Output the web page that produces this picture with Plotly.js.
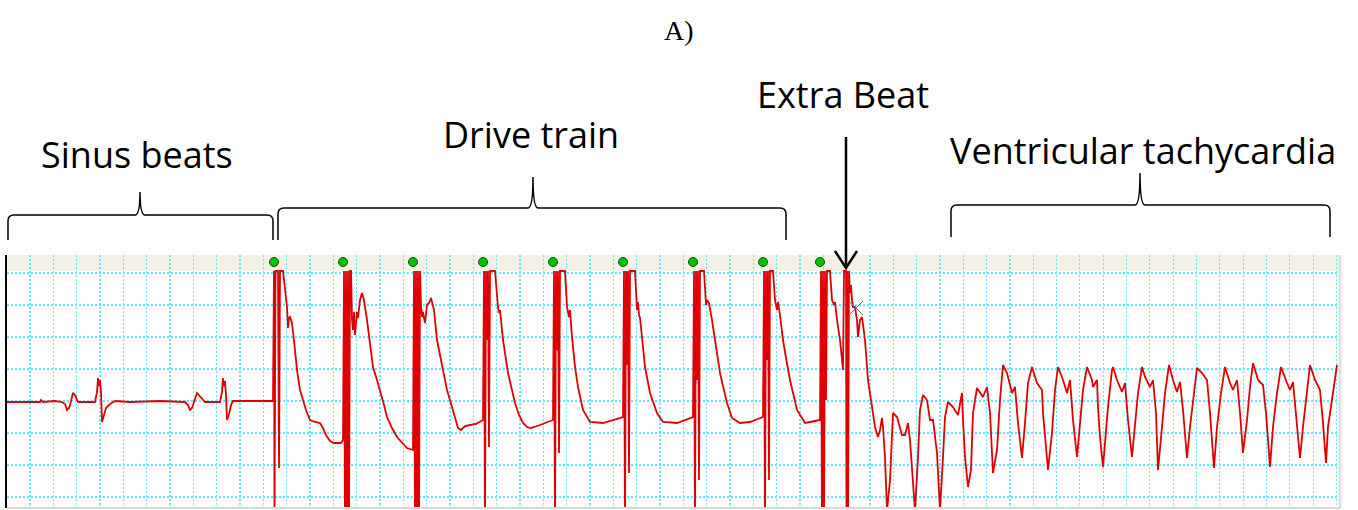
<!DOCTYPE html>
<html>
<head>
<meta charset="utf-8">
<script src="https://cdn.plot.ly/plotly-3.0.1.min.js"></script>
<style>html,body{margin:0;padding:0;background:#fff;}#chart{width:1358px;height:510px;}</style>
</head>
<body>
<div id="chart"></div>
<script>
// ---- data (time in samples, amplitude in arbitrary units) ----
const sinusT = [0,33,34,36,48,55,58,60,62,63,66,68,71,88,90,91,92,93,94,95,97,99,103,108,123,153,178,181,183,185,190,193,198,213,215,216,217,218,219,220,222,224,226,243,266];
const sinusV = [-1,-1,1,-1,0,-1,-3,-9,-7,-4,8,6,-1,-1,9,23,15,21,9,-21,-14,-7,-3,0,-1,0,-1,-4,-9,-7,8,5,-1,-1,9,23,15,20,6,-19,-13,-4,0,0,0];

const drive1T = [267,267.5,268.5,271,272,273,276,278,280,281,282,283,285,288,290,293,296,299,303,308,313,316,319,323,327,334,336];
const drive1V = [130,-130,130,130,-67,130,130,111,94,73,83,84,78,51,31,11,1,-9,-19,-21,-22,-27,-34,-40,-42,-42,-39];
const drive2T = [337,338,339,340,341,342,343,344,345,346,347,348,349,350,351,353,355,357,360,363,366,370,373,377,380,385,390,395,400,406];
const drive2V = [130,-130,130,-130,130,-130,130,130,81,71,89,66,81,89,83,101,108,101,81,56,34,21,11,-4,-16,-27,-36,-42,-47,-49];
const drive3T = [407,408,409,410,411,412,413,414,415,416,418,420,422,424,427,430,433,436,440,443,447,451,454,458,463,469,476];
const drive3V = [130,-130,130,-130,130,-130,130,96,84,89,78,96,98,103,91,61,46,28,11,1,-12,-27,-29,-25,-24,-23,-19];
const drive4T = [477,478,479,480,481,482,483,488,490,491,492,493,496,499,501,505,508,512,516,520,524,533,541,546];
const drive4V = [130,-130,130,61,130,-46,130,130,101,94,88,91,61,41,28,11,-2,-14,-22,-26,-27,-24,-21,-19];
const drive5T = [547,548,549,550,551,552,553,558,560,562,563,565,568,571,576,583,596,606,616];
const drive5V = [130,-130,130,51,130,-52,130,130,94,84,91,64,34,14,-9,-21,-22,-19,-16];
const drive6T = [617,618,619,620,621,622,623,628,630,631,632,633,635,638,643,650,656,670,686];
const drive6V = [130,-130,130,36,130,-72,130,130,91,99,86,83,64,34,8,-12,-21,-22,-16];
const drive7T = [687,688,689,690,691,692,693,697,699,700,702,705,708,713,720,725,733,743,756];
const drive7V = [130,-130,130,21,130,-79,130,130,96,101,98,81,61,28,-2,-17,-22,-21,-16];
const drive8T = [757,758,759,760,761,762,763,766,768,770,771,773,776,779,783,790,798,803,813];
const drive8V = [130,-130,130,41,130,-79,130,130,101,91,99,86,61,43,21,-9,-22,-21,-19];
const drive9T = [814,815,816,817,818,819,820,823,825,827,828,830,833,835,836];
const drive9V = [130,-130,130,-130,130,1,130,130,101,96,99,81,61,41,31];

const extraT = [837,839,839.5,840,841,842,843,844,845,846,848,850,851,853,855,858,861,865,868,871,873,875,876,878,880,883,885,886];
const extraV = [130,130,-130,130,-130,130,108,116,101,94,94,81,64,81,84,61,21,-9,-26,-36,-29,-17,-26,-56,-110,-79,-26,-12];

const vtT = [890,895,898,901,903,905,908,911,913,916,
920,923,926,930,933,936,938,941,946,951,
955,956,958,961,964,966,970,976,980,983,
986,990,993,996,1000,1005,1008,1011,1015,1018,
1021,1025,1030,1035,1036,1041,1045,1048,1051,1056,
1060,1063,1066,1070,1073,1076,1080,1085,1086,1090,
1091,1093,1096,1098,1101,1105,1106,1110,1115,1118,
1121,1125,1128,1131,1135,1138,1143,1146,1149,1151,
1155,1158,1162,1166,1170,1173,1176,1180,1183,1186,
1190,1195,1200,1203,1207,1210,1214,1218,1223,1226,
1230,1233,1236,1240,1243,1246,1251,1256,1259,1263,
1266,1270,1274,1280,1283,1286,1290,1293,1296,1300,
1303,1308,1313,1316,1319,1321,1325,1328,1330];
const vtV = [-16,-34,-34,-22,-39,-72,-110,-56,-9,6,
1,-19,-19,-52,-110,-56,-16,-1,-6,-14,
8,-19,-56,-86,-69,-12,13,4,14,-12,
-72,-49,1,36,28,8,14,-22,-57,-22,
18,34,18,11,-12,-69,-32,11,34,21,
8,21,-19,-56,-26,11,34,21,14,21,
-6,-36,-66,-39,-6,31,34,21,9,18,
-19,-56,-26,8,34,24,14,21,-12,-69,
-26,8,36,21,9,19,-9,-57,-26,1,
33,28,21,-12,-67,-26,8,34,18,11,
21,-12,-52,-19,14,38,21,16,-12,-66,
-26,8,34,18,11,19,-29,-57,-26,11,
36,21,11,-22,-62,-26,1,21,36];

const stimT = [267,336,406,476,546,616,686,756,813];
const stimLevel = 139;
const cursorT = [849];
const cursorV = [93];

const labels = ["A)", "Sinus beats", "Drive train", "Extra Beat", "Ventricular tachycardia"];

// ---- assemble ----
const allT = [].concat(sinusT, drive1T, drive2T, drive3T, drive4T, drive5T, drive6T, drive7T, drive8T, drive9T, extraT, vtT);
const allV = [].concat(sinusV, drive1V, drive2V, drive3V, drive4V, drive5V, drive6V, drive7V, drive8V, drive9V, extraV, vtV);

const W = 1358, H = 510;
const fx = x => x / W;
const fy = y => 1 - y / H;
const P = (x, y) => fx(x).toFixed(5) + ',' + fy(y).toFixed(5);

function brace(x0, x1, xm, yBar, yEnd, yTip) {
  const r = 6;
  return 'M' + P(x0, yEnd) + ' L' + P(x0, yBar + r) + ' Q' + P(x0, yBar) + ' ' + P(x0 + r, yBar) +
    ' L' + P(xm - 5, yBar) + ' Q' + P(xm, yBar) + ' ' + P(xm, yTip) +
    ' Q' + P(xm, yBar) + ' ' + P(xm + 5, yBar) +
    ' L' + P(x1 - r, yBar) + ' Q' + P(x1, yBar) + ' ' + P(x1, yBar + r) + ' L' + P(x1, yEnd);
}

const traces = [
  {x: allT, y: allV, type: 'scatter', mode: 'lines', line: {color: '#e00000', width: 1.8}, hoverinfo: 'skip'},
  {x: stimT, y: stimT.map(() => stimLevel), type: 'scatter', mode: 'markers',
   marker: {color: '#00c000', size: 9, line: {color: '#005a00', width: 1}}, hoverinfo: 'skip'},
  {x: cursorT, y: cursorV, type: 'scatter', mode: 'markers',
   marker: {symbol: 'x-thin-open', color: '#666', size: 14, line: {color: '#666', width: 1}}, hoverinfo: 'skip'}
];

const lineStyle = {color: '#000', width: 1.5};
const shapes = [
  {type: 'rect', xref: 'x domain', yref: 'y', x0: 0, x1: 1, y0: 130, y1: 146, layer: 'below', fillcolor: '#f3f0e5', line: {width: 0}},
  {type: 'line', xref: 'x domain', yref: 'y domain', x0: 0, x1: 1, y0: 0, y1: 0, line: {color: '#d9d9d9', width: 2}},
  {type: 'line', xref: 'x domain', yref: 'y domain', x0: 1, x1: 1, y0: 0, y1: 1, line: {color: '#e0e0e0', width: 3}},
  {type: 'path', xref: 'paper', yref: 'paper', path: brace(8, 273, 140, 215, 240, 192), line: lineStyle},
  {type: 'path', xref: 'paper', yref: 'paper', path: brace(278, 786, 533, 208, 240, 177), line: lineStyle},
  {type: 'path', xref: 'paper', yref: 'paper', path: brace(951, 1330, 1140, 205, 237, 173), line: lineStyle},
  {type: 'path', xref: 'paper', yref: 'paper', path: 'M' + P(846, 137) + ' L' + P(846, 267), line: {color: '#000', width: 2.5}},
  {type: 'path', xref: 'paper', yref: 'paper', path: 'M' + P(835, 251) + ' L' + P(846, 268) + ' L' + P(857, 251), line: {color: '#000', width: 2.5}}
];

const labFont = {family: 'Open Sans, sans-serif', size: 36, color: '#000'};
const annotations = [
  {text: labels[0], xref: 'paper', yref: 'paper', x: fx(679), y: fy(30), showarrow: false, xanchor: 'center', yanchor: 'middle',
   font: {family: 'Liberation Serif, Times New Roman, serif', size: 28, color: '#000'}},
  {text: labels[1], xref: 'paper', yref: 'paper', x: fx(137), y: fy(154), showarrow: false, xanchor: 'center', yanchor: 'middle', font: labFont},
  {text: labels[2], xref: 'paper', yref: 'paper', x: fx(531), y: fy(135), showarrow: false, xanchor: 'center', yanchor: 'middle', font: labFont},
  {text: labels[3], xref: 'paper', yref: 'paper', x: fx(843), y: fy(94), showarrow: false, xanchor: 'center', yanchor: 'middle', font: labFont},
  {text: labels[4], xref: 'paper', yref: 'paper', x: fx(1143), y: fy(150), showarrow: false, xanchor: 'center', yanchor: 'middle', font: labFont}
];

const gridCol = '#55eeff';
const layout = {
  width: W, height: H,
  margin: {l: 0, r: 0, t: 0, b: 0, pad: 0},
  paper_bgcolor: '#fff', plot_bgcolor: '#fff',
  showlegend: false,
  xaxis: {domain: [7 / W, 1340 / W], range: [0, 1333], showticklabels: false, ticks: '',
          showgrid: true, tick0: 23, dtick: 23.33, gridcolor: gridCol, griddash: '2px,2px', gridwidth: 1.3,
          zeroline: false, showline: false, fixedrange: true},
  yaxis: {domain: [2 / H, 255 / H], range: [-107, 146], showticklabels: false, ticks: '',
          showgrid: true, tick0: 0, dtick: 32, gridcolor: gridCol, griddash: '2px,2px', gridwidth: 1.3,
          zeroline: false, showline: true, linecolor: '#000', linewidth: 2, fixedrange: true},
  shapes: shapes,
  annotations: annotations
};

Plotly.newPlot('chart', traces, layout, {staticPlot: true, displayModeBar: false});
</script>
</body>
</html>
